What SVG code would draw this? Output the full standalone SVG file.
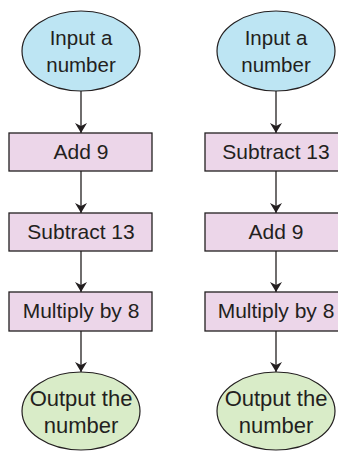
<svg xmlns="http://www.w3.org/2000/svg" width="338" height="451" viewBox="0 0 338 451">
<defs>
<style>
.in{fill:#bde5f3;stroke:#231f20;stroke-width:1.2}
.box{fill:#ecd6e9;stroke:#231f20;stroke-width:1.3}
.out{fill:#d9ecc8;stroke:#231f20;stroke-width:1.2}
text{font-family:"Liberation Sans",Arial,sans-serif;font-size:21px;fill:#231f20;text-anchor:middle}
.ti{font-size:20.5px}
.to{font-size:22px}
.c{stroke:#231f20;stroke-width:1.3;fill:none;marker-end:url(#ah)}
</style>
<marker id="ah" viewBox="0 0 10 12" refX="10" refY="6" markerWidth="10" markerHeight="12" markerUnits="userSpaceOnUse" orient="auto">
<path d="M0,0 L10,6 L0,12 L3,6 Z" fill="#231f20"/>
</marker>
</defs>
<rect width="338" height="451" fill="#ffffff"/>
<g id="connectors">
<line class="c" x1="81" y1="91" x2="81" y2="133"/>
<line class="c" x1="81" y1="171" x2="81" y2="213"/>
<line class="c" x1="81" y1="251" x2="81" y2="292"/>
<line class="c" x1="81" y1="331" x2="81" y2="372"/>
<line class="c" x1="276" y1="91" x2="276" y2="133"/>
<line class="c" x1="276" y1="171" x2="276" y2="213"/>
<line class="c" x1="276" y1="251" x2="276" y2="292"/>
<line class="c" x1="276" y1="331" x2="276" y2="372"/>
</g>
<g id="left-input"><ellipse class="in" cx="81" cy="51" rx="59" ry="40"/><text class="ti" x="81" y="45">Input a</text><text class="ti" x="81" y="72">number</text></g>
<g id="left-add9"><rect class="box" x="9" y="133" width="143" height="38"/><text x="81" y="159">Add 9</text></g>
<g id="left-sub13"><rect class="box" x="9" y="213" width="143" height="38"/><text x="81" y="239">Subtract 13</text></g>
<g id="left-mul8"><rect class="box" x="9" y="292" width="143" height="39"/><text x="81" y="318">Multiply by 8</text></g>
<g id="left-output"><ellipse class="out" cx="81" cy="411" rx="59" ry="39"/><text class="to" x="81" y="406">Output the</text><text class="to" x="81" y="433">number</text></g>
<g id="right-input"><ellipse class="in" cx="276" cy="51" rx="59" ry="40"/><text class="ti" x="276" y="45">Input a</text><text class="ti" x="276" y="72">number</text></g>
<g id="right-sub13"><rect class="box" x="205" y="133" width="143" height="38"/><text x="276" y="159">Subtract 13</text></g>
<g id="right-add9"><rect class="box" x="205" y="213" width="143" height="38"/><text x="276" y="239">Add 9</text></g>
<g id="right-mul8"><rect class="box" x="205" y="292" width="143" height="39"/><text x="276" y="318">Multiply by 8</text></g>
<g id="right-output"><ellipse class="out" cx="276" cy="411" rx="59" ry="39"/><text class="to" x="276" y="406">Output the</text><text class="to" x="276" y="433">number</text></g>
</svg>
